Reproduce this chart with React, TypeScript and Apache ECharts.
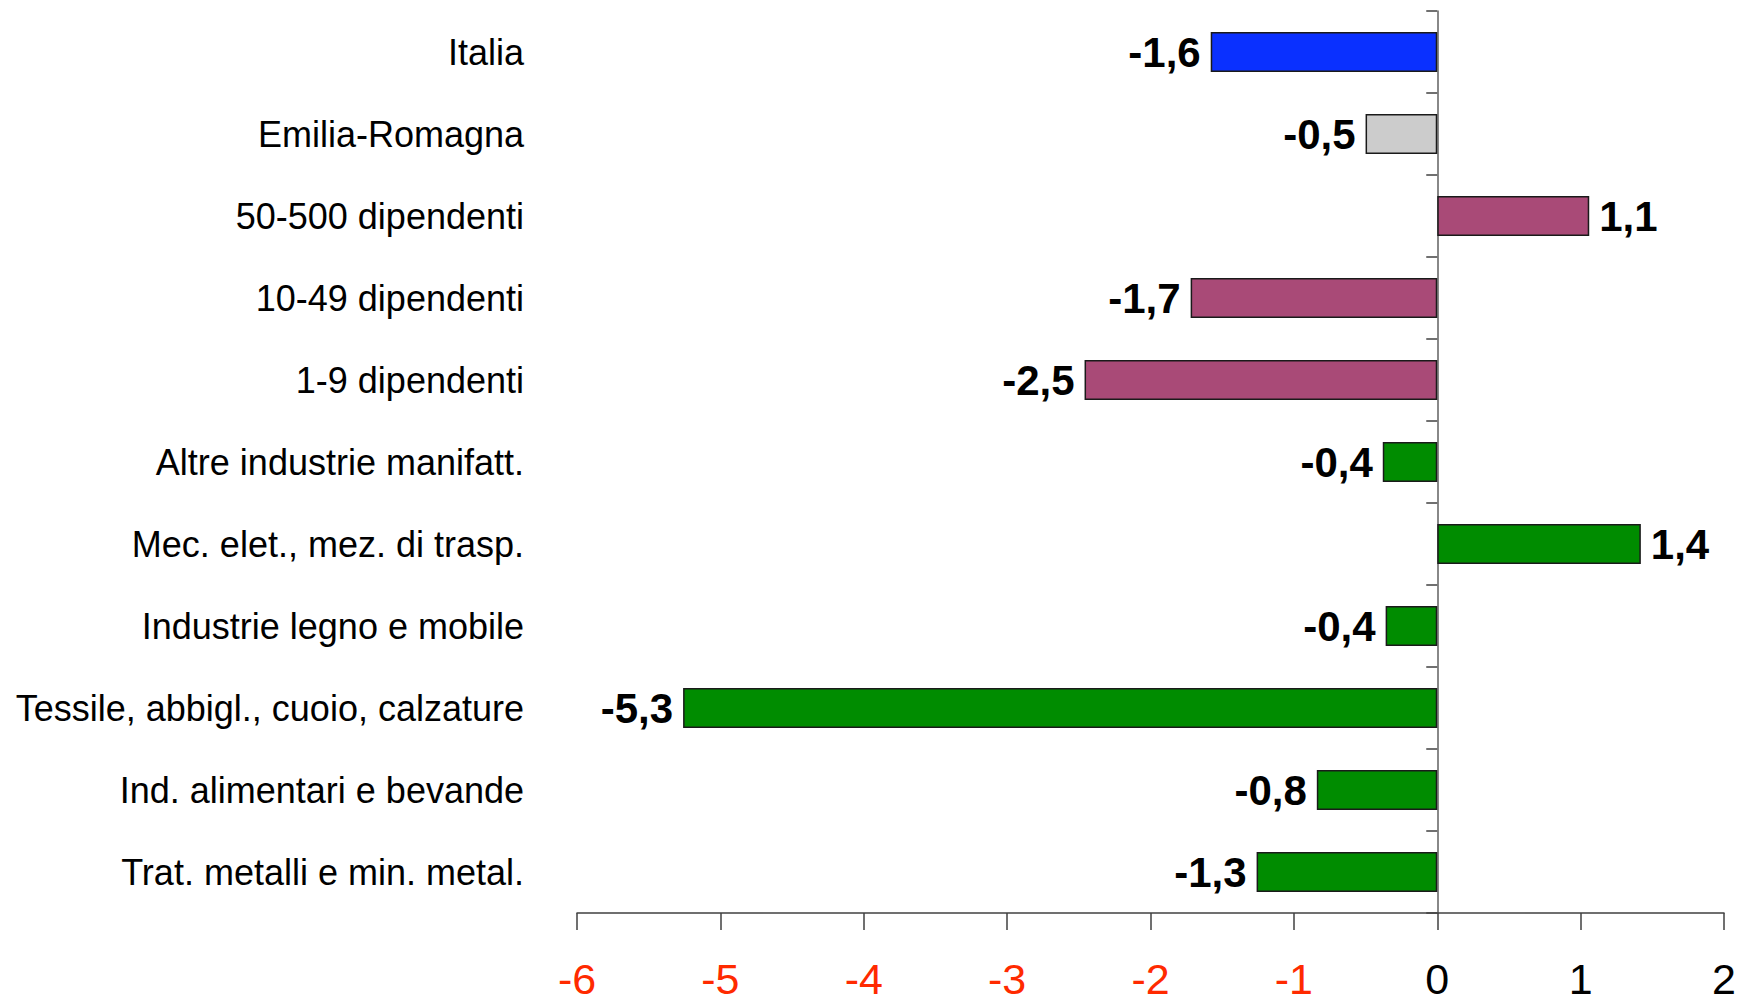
import React, { useEffect, useRef } from "react";
import * as echarts from "echarts";

const categories = [
  "Italia",
  "Emilia-Romagna",
  "50-500 dipendenti",
  "10-49 dipendenti",
  "1-9 dipendenti",
  "Altre industrie manifatt.",
  "Mec. elet., mez. di trasp.",
  "Industrie legno e mobile",
  "Tessile, abbigl., cuoio, calzature",
  "Ind. alimentari e bevande",
  "Trat. metalli e min. metal.",
];

const values = [-1.58, -0.5, 1.06, -1.72, -2.46, -0.38, 1.42, -0.36, -5.26, -0.84, -1.26];

const groups = [
  "italy",
  "region",
  "size",
  "size",
  "size",
  "sector",
  "sector",
  "sector",
  "sector",
  "sector",
  "sector",
];

const groupColors: Record<string, string> = {
  italy: "#0a30ff",
  region: "#cccccc",
  size: "#a94a77",
  sector: "#008c00",
};

const xMin = -6;
const xMax = 2;
const xInterval = 1;

const FONT = "'Liberation Sans', Arial, Helvetica, sans-serif";

export default function App() {
  const ref = useRef<HTMLDivElement>(null);

  useEffect(() => {
    if (!ref.current) return;
    const chart = echarts.init(ref.current, null, { renderer: "svg" });
    chart.setOption({
      animation: false,
      backgroundColor: "#ffffff",
      grid: { left: 577, right: 16, top: 11, bottom: 88, containLabel: false },
      xAxis: {
        type: "value",
        min: xMin,
        max: xMax,
        interval: xInterval,
        splitLine: { show: false },
        axisLine: { show: true, lineStyle: { color: "#404040", width: 1.5 } },
        axisTick: { show: true, length: 17, lineStyle: { color: "#404040", width: 1.5 } },
        axisLabel: {
          margin: 44,
          fontFamily: FONT,
          fontSize: 43,
          lineHeight: 43,
          color: (v: number) => (v < 0 ? "#ff2a00" : "#000000"),
          formatter: (v: number) => String(v),
        },
      },
      yAxis: [
        {
          type: "category",
          data: categories,
          inverse: true,
          position: "left",
          axisLine: { show: false, onZero: false },
          axisTick: { show: false },
          axisLabel: {
            margin: 53,
            fontFamily: FONT,
            fontSize: 36,
            color: "#000000",
          },
        },
        {
          type: "category",
          data: categories,
          inverse: true,
          position: "left",
          axisLine: { show: true, onZero: true, lineStyle: { color: "#606060", width: 1.5 } },
          axisTick: { show: true, length: 11, lineStyle: { color: "#404040", width: 1.5 } },
          axisLabel: { show: false },
        },
      ],
      series: [
        {
          type: "bar",
          yAxisIndex: 0,
          barWidth: 40,
          data: values.map((v, i) => ({
            value: v,
            itemStyle: {
              color: groupColors[groups[i]],
              borderColor: "#1a1a1a",
              borderWidth: 1.5,
            },
          })),
          label: {
            show: true,
            position: "outside",
            distance: 10,
            fontFamily: FONT,
            fontSize: 42,
            fontWeight: "bold",
            color: "#000000",
            formatter: (p: any) => Number(p.value).toFixed(1).replace(".", ","),
          },
        },
      ],
    });
    return () => chart.dispose();
  }, []);

  return (
    <div
      ref={ref}
      style={{
        position: "fixed",
        left: 0,
        top: 0,
        width: 1740,
        height: 1001,
        background: "#ffffff",
      }}
    />
  );
}
